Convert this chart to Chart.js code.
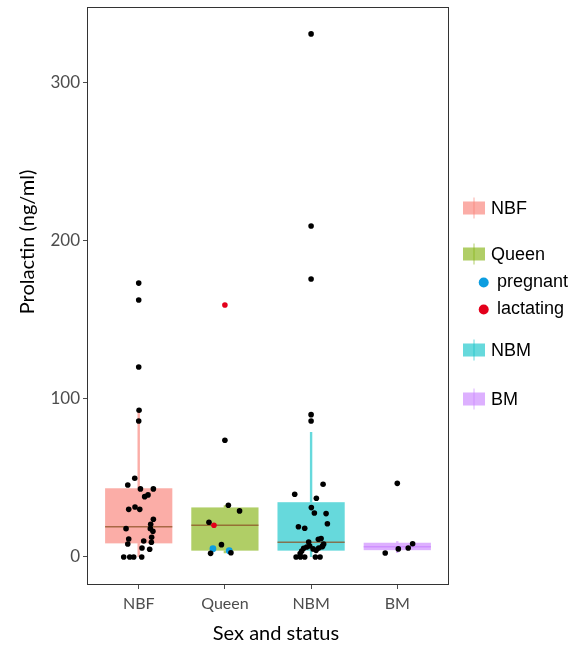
<!DOCTYPE html>
<html>
<head>
<meta charset="utf-8">
<script src="https://cdn.jsdelivr.net/npm/chart.js@4.4.1/dist/chart.umd.min.js"></script>
<style>
  html, body { margin: 0; padding: 0; background: #ffffff; }
  #wrap { width: 588px; height: 646px; }
</style>
</head>
<body>
<div id="wrap"><canvas id="chart" width="588" height="646"></canvas></div>
<script>
// Groups along the x axis and the y tick values
const categories = ['NBF', 'Queen', 'NBM', 'BM'];
const yTickValues = [0, 100, 200, 300];

// Box summaries per group (ng/ml)
const whiskerLow  = [0,    2.3,  0,    2.5];
const boxQ1       = [8.6,  4.0,  4.0,  4.3];
const boxMedian   = [19.1, 20.0, 9.3,  6.5];
const boxQ3       = [43.4, 31.3, 34.6, 9.0];
const whiskerHigh = [93,   32.7, 79,   10.0];

// Individual measurements and their horizontal jitter (in category units)
const nbfValues = [173, 162.3, 120, 92.7, 85.9, 49.7, 45.5, 43, 43, 39.2, 38.1, 31.6, 30.1, 30.1, 23.8,
                   20.7, 17.9, 17.9, 16.2, 12.4, 11.4, 10.1, 9.3, 8.2, 5.7, 4.9, 0, 0, 0, 0];
const nbfJitter = [0, 0, 0, 0.004, 0, -0.046, -0.127, 0.02, 0.17, 0.108, 0.069, -0.043, -0.116, 0.012, 0.17,
                   0.139, -0.147, 0.135, 0.165, 0.15, -0.116, 0.058, 0.147, -0.127, 0.038, 0.127, -0.174, -0.104, -0.058, 0.035];

const queenValues = [73.7, 32.7, 29.1, 21.9, 7.8, 2.3, 2.7];
const queenJitter = [0, 0.04, 0.17, -0.185, -0.04, -0.166, 0.07];
const pregnantValues = [5.2, 4.0];
const pregnantJitter = [-0.139, 0.05];
const lactatingValues = [159.2, 20.0];
const lactatingJitter = [0, -0.127];

const nbmValues = [330.4, 209.1, 175.6, 89.9, 85.9, 45.9, 39.6, 37.1, 31.2, 27.8, 27.4, 21.0, 19.1, 18.1,
                   11.6, 11.2, 9.5, 8.2, 7.0, 2.1, 3.8, 5.5, 6.3, 6.9, 5.1, 4.2, 5.7, 6.5, 0, 0, 0, 0, 0];
const nbmJitter = [0, 0, 0, 0, 0, 0.139, -0.19, 0.061, 0.003, 0.038, 0.174, 0.189, -0.147, -0.074,
                   0.116, 0.084, -0.028, 0.146, 0.134, -0.127, -0.109, -0.086, -0.051, -0.016, 0.023, 0.058, 0.088, 0.127,
                   -0.174, -0.124, -0.074, 0.05, 0.104];

const bmValues = [46.5, 8.4, 5.7, 5.1, 2.5];
const bmJitter = [0, 0.178, 0.127, 0.012, -0.14];

// Styling
const groupFill = ['rgba(248,118,109,0.6)', 'rgba(124,174,0,0.6)', 'rgba(0,191,196,0.6)', 'rgba(199,124,255,0.6)'];
const medianColor = ['rgba(140,80,35,0.75)', 'rgba(140,80,35,0.75)', 'rgba(140,80,35,0.75)', 'rgba(199,124,255,0.6)'];
const pregnantColor = '#0c9de0';
const lactatingColor = '#e3001b';
const axisFont = 'Lato, "Open Sans", sans-serif';
const legendFont = '"Liberation Sans", Arial, sans-serif';

function toPoints(groupIndex, values, jitter) {
  return values.map((v, i) => ({ x: groupIndex + 1 + jitter[i], y: v }));
}

const boxWidth = 0.78;

// Boxes, whiskers and medians drawn beneath the points using the chart scales
const boxPlugin = {
  id: 'boxes',
  beforeDatasetsDraw(chart) {
    const { ctx, scales: { x, y } } = chart;
    ctx.save();
    categories.forEach((c, i) => {
      const cx = x.getPixelForValue(i + 1);
      const left = x.getPixelForValue(i + 1 - boxWidth / 2);
      const right = x.getPixelForValue(i + 1 + boxWidth / 2);
      const yq1 = y.getPixelForValue(boxQ1[i]);
      const yq3 = y.getPixelForValue(boxQ3[i]);
      // whiskers
      ctx.strokeStyle = groupFill[i];
      ctx.lineWidth = 2.4;
      ctx.beginPath();
      ctx.moveTo(cx, y.getPixelForValue(whiskerHigh[i]));
      ctx.lineTo(cx, yq3);
      ctx.moveTo(cx, yq1);
      ctx.lineTo(cx, y.getPixelForValue(whiskerLow[i]));
      ctx.stroke();
      // box
      ctx.fillStyle = groupFill[i];
      ctx.fillRect(left, yq3, right - left, yq1 - yq3);
      // median
      ctx.strokeStyle = medianColor[i];
      ctx.lineWidth = 1.6;
      const ym = y.getPixelForValue(boxMedian[i]);
      ctx.beginPath();
      ctx.moveTo(left, ym);
      ctx.lineTo(right, ym);
      ctx.stroke();
    });
    ctx.restore();
  }
};

// Panel frame, axis titles and the legend
const framePlugin = {
  id: 'frame',
  afterDraw(chart) {
    const { ctx, chartArea: a } = chart;
    ctx.save();
    ctx.strokeStyle = '#333333';
    ctx.lineWidth = 1;
    ctx.strokeRect(Math.round(a.left) + 0.5, Math.round(a.top) + 0.5,
                   Math.round(a.right - a.left) - 1, Math.round(a.bottom - a.top) - 1);

    ctx.fillStyle = '#000000';
    ctx.font = '20px ' + axisFont;
    ctx.textAlign = 'center';
    ctx.textBaseline = 'middle';
    ctx.fillText('Sex and status', 276, 634);
    ctx.save();
    ctx.translate(28, 242);
    ctx.rotate(-Math.PI / 2);
    ctx.fillText('Prolactin (ng/ml)', 0, 0);
    ctx.restore();

    // legend
    const keyX = 463, keyW = 22, keyH = 13, textX = 491;
    const keyRows = [
      { label: 'NBF', yc: 208, color: groupFill[0] },
      { label: 'Queen', yc: 254, color: groupFill[1] },
      { label: 'NBM', yc: 350, color: groupFill[2] },
      { label: 'BM', yc: 399, color: groupFill[3] }
    ];
    ctx.textAlign = 'left';
    ctx.font = '18px ' + legendFont;
    keyRows.forEach(r => {
      ctx.strokeStyle = r.color;
      ctx.lineWidth = 1;
      ctx.beginPath();
      ctx.moveTo(keyX + keyW / 2, r.yc - 10.5);
      ctx.lineTo(keyX + keyW / 2, r.yc + 10.5);
      ctx.stroke();
      ctx.fillStyle = r.color;
      ctx.fillRect(keyX, r.yc - keyH / 2, keyW, keyH);
      ctx.fillStyle = '#000000';
      ctx.fillText(r.label, textX, r.yc + 1);
    });
    const dotRows = [
      { label: 'pregnant', yc: 282, color: pregnantColor },
      { label: 'lactating', yc: 309, color: lactatingColor }
    ];
    dotRows.forEach(r => {
      ctx.fillStyle = r.color;
      ctx.beginPath();
      ctx.arc(483.7, r.yc + 0.5, 5, 0, Math.PI * 2);
      ctx.fill();
      ctx.fillStyle = '#000000';
      ctx.fillText(r.label, 497, r.yc);
    });
    ctx.restore();
  }
};

const pointStyle = (data, color, radius) => ({
  data, backgroundColor: color, borderWidth: 0, pointRadius: radius, pointHoverRadius: radius
});

new Chart(document.getElementById('chart'), {
  type: 'scatter',
  data: {
    datasets: [
      pointStyle(toPoints(0, nbfValues, nbfJitter), '#000000', 2.8),
      pointStyle(toPoints(1, queenValues, queenJitter), '#000000', 2.8),
      pointStyle(toPoints(2, nbmValues, nbmJitter), '#000000', 2.8),
      pointStyle(toPoints(3, bmValues, bmJitter), '#000000', 2.8),
      pointStyle(toPoints(1, pregnantValues, pregnantJitter), pregnantColor, 3.4),
      pointStyle(toPoints(1, lactatingValues, lactatingJitter), lactatingColor, 2.8)
    ]
  },
  options: {
    responsive: false,
    animation: false,
    events: [],
    layout: { padding: { left: 0, top: 7, right: 139, bottom: 0 } },
    plugins: { legend: { display: false }, tooltip: { enabled: false } },
    scales: {
      x: {
        type: 'linear',
        min: 0.4,
        max: 4.6,
        afterBuildTicks: s => { s.ticks = categories.map((c, i) => ({ value: i + 1 })); },
        afterFit: s => { s.height = 61; s.paddingLeft = 0; s.paddingRight = 0; },
        grid: { display: true, drawOnChartArea: false, drawTicks: true, tickLength: 4, color: '#4d4d4d' },
        border: { display: false },
        ticks: {
          callback: v => categories[v - 1],
          font: { family: axisFont, size: 16 },
          color: '#4d4d4d',
          padding: 5,
          maxRotation: 0
        }
      },
      y: {
        type: 'linear',
        min: -17.7,
        max: 347.4,
        afterBuildTicks: s => { s.ticks = yTickValues.map(v => ({ value: v })); },
        afterFit: s => { s.width = 87; s.paddingTop = 0; s.paddingBottom = 0; },
        grid: { display: true, drawOnChartArea: false, drawTicks: true, tickLength: 4, color: '#4d4d4d' },
        border: { display: false },
        ticks: {
          font: { family: axisFont, size: 17 },
          color: '#4d4d4d',
          padding: 3
        }
      }
    }
  },
  plugins: [boxPlugin, framePlugin]
});
</script>
</body>
</html>
